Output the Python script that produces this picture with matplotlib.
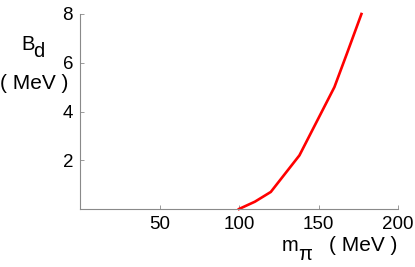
import matplotlib.pyplot as plt

plt.rcParams["font.family"] = ["Liberation Sans", "DejaVu Sans"]

# 曲線データ
m_pi = [100, 110, 120, 138, 160, 168, 177]
B_d = [0.0, 0.3, 0.7, 2.2, 5.0, 6.4, 8.0]

x_ticks = [50, 100, 150, 200]
y_ticks = [2, 4, 6, 8]

AXIS_GRAY = "#8a8a8a"
RED = "#ff0000"
W, H = 415, 267


def px_text(fig, x, y, s, **kw):
    """ピクセル座標（左上原点）でテキストを置く"""
    fig.text(x / W, 1 - y / H, s, ha="left", va="baseline", **kw)


def main() -> None:
    fig = plt.figure(figsize=(W / 100, H / 100), dpi=100)
    fig.patch.set_facecolor("white")
    ax = fig.add_axes([80 / W, 1 - 209 / H, 318 / W, 195 / H])

    ax.plot(m_pi, B_d, color=RED, linewidth=1.9, solid_joinstyle="miter", clip_on=False)

    ax.set_xlim(0, 200)
    ax.set_ylim(0, 8)
    ax.set_xticks(x_ticks)
    ax.set_yticks(y_ticks)

    for side in ("top", "right"):
        ax.spines[side].set_visible(False)
    for side in ("left", "bottom"):
        ax.spines[side].set_color(AXIS_GRAY)
        ax.spines[side].set_linewidth(0.8)

    ax.tick_params(direction="in", length=3, width=0.6, color=AXIS_GRAY,
                   labelsize=13.5, pad=5)

    # 軸ラベル
    px_text(fig, 21, 50, "B", fontsize=14.5)
    px_text(fig, 33, 57, "d", fontsize=14.5)
    px_text(fig, 0, 89, "( MeV )", fontsize=15)
    px_text(fig, 282, 251, "m", fontsize=14.5)
    px_text(fig, 298, 260, "π", fontsize=14.5)
    px_text(fig, 329, 251, "( MeV )", fontsize=15)

    fig.savefig("out.png", dpi=100, facecolor="white")
    plt.close(fig)


if __name__ == "__main__":
    main()
